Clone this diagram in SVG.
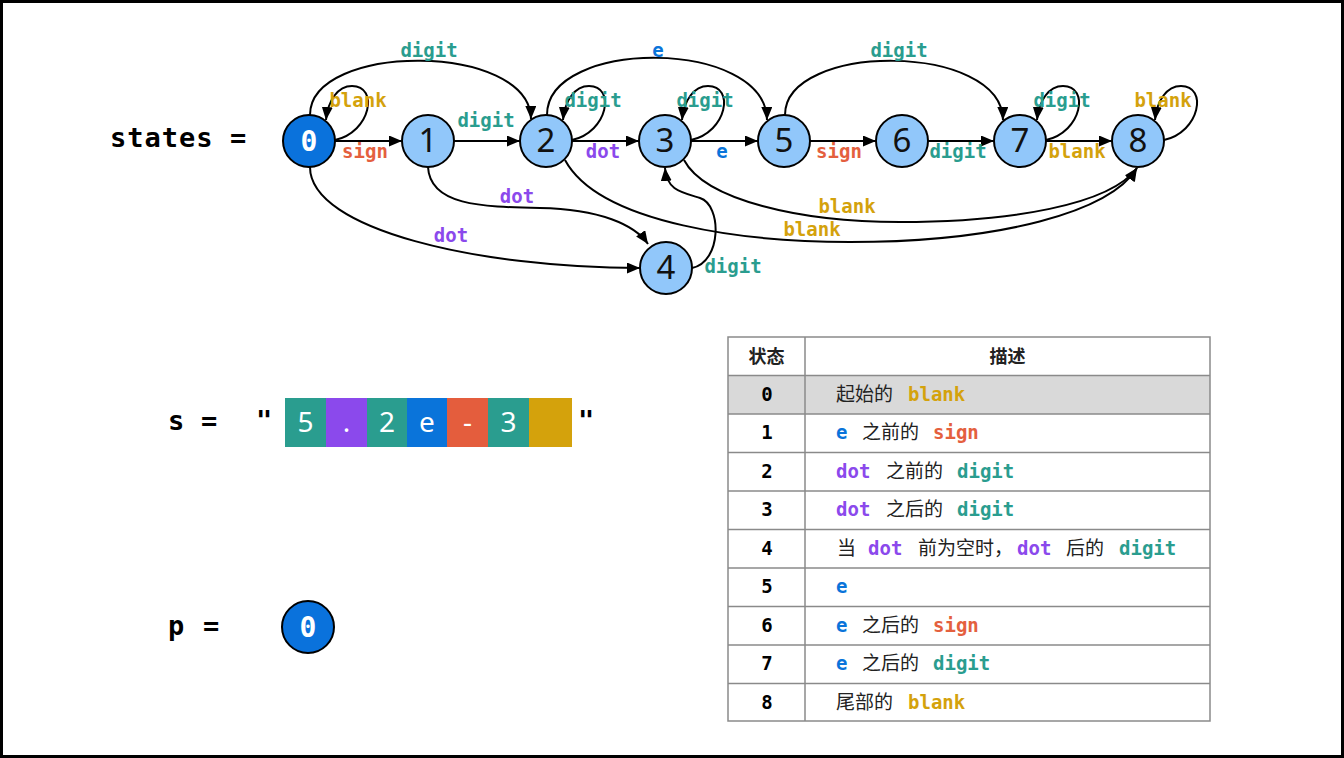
<svg xmlns="http://www.w3.org/2000/svg" width="1344" height="758" viewBox="0 0 1344 758">
<style>
.mono{font-family:"DejaVu Sans Mono","Liberation Mono",monospace;font-weight:bold}
.lbl{font-size:19px;text-anchor:middle}
.node{fill:#91C7FA;stroke:#000;stroke-width:2}
.start{fill:#0A72DC;stroke:#000;stroke-width:2}
.num{font-family:"Noto Sans","Liberation Sans",sans-serif;font-size:33px;text-anchor:middle;fill:#111}
.zero{font-size:28px;text-anchor:middle;fill:#fff}
.edge{fill:none;stroke:#000;stroke-width:2;marker-end:url(#ah)}
.digit{fill:#2A9D8F}.blank{fill:#D4A20C}.sign{fill:#E4603E}.dot{fill:#8B49EC}.e{fill:#0A74DA}
.cjk{font-family:"Noto Sans CJK SC",sans-serif;font-size:19px;fill:#222}
.cell{fill:none;stroke:#8a8a8a;stroke-width:1.5}
.tl{font-size:19px}
.big{font-size:27px;fill:#000;letter-spacing:1px}
.box{font-family:"Noto Sans","Liberation Sans",sans-serif;font-size:28px;fill:#fff;text-anchor:middle}
</style>
<defs>
<marker id="ah" markerUnits="userSpaceOnUse" markerWidth="14" markerHeight="12" refX="13" refY="5.5" orient="auto">
<path d="M0,0 L13,5.5 L0,11 z" fill="#000"/>
</marker>
</defs>
<rect x="0" y="0" width="1344" height="758" fill="#fff"/>
<rect x="1.5" y="1.5" width="1341" height="755" fill="none" stroke="#000" stroke-width="3"/>

<text class="mono big" x="110" y="147">states</text>
<text class="mono big" x="230" y="147">=</text>

<g id="connectors">
<path class="edge" d="M335,141 L402,141"/>
<path class="edge" d="M454,141 L520,141"/>
<path class="edge" d="M572,141 L639,141"/>
<path class="edge" d="M691,141 L758,141"/>
<path class="edge" d="M810,141 L876,141"/>
<path class="edge" d="M928,141 L994,141"/>
<path class="edge" d="M1046,141 L1112,141"/>
<path class="edge" d="M310,115 C310,42 530,42 531,119"/>
<path class="edge" d="M547,115 C547,38 766,38 767,120"/>
<path class="edge" d="M785,115 C785,42 1002,42 1003,120"/>
<path class="edge" d="M335,140 C371,132 379,86 352,86 C338,86 328,100 326,120"/>
<path class="edge" d="M572,140 C608,132 616,86 589,86 C575,86 565,100 563,120"/>
<path class="edge" d="M691,140 C727,132 735,86 708,86 C694,86 684,100 682,120"/>
<path class="edge" d="M1046,140 C1082,132 1090,86 1063,86 C1049,86 1039,100 1037,120"/>
<path class="edge" d="M1164,140 C1200,132 1208,86 1181,86 C1167,86 1157,100 1155,120"/>
<path class="edge" d="M310,167 C310,230 480,268 640,268"/>
<path class="edge" d="M428,167 C430,205 480,207 540,208 C600,209 635,225 648,244"/>
<path class="edge" d="M692,268 C722,262 722,205 700,198 C680,192 667,190 665,168"/>
<path class="edge" d="M565,160 C600,225 750,242 850,242 C1000,242 1110,212 1137,168"/>
<path class="edge" d="M684,160 C705,200 800,222 900,222 C1010,222 1110,205 1137,168"/>
</g>

<g id="edge-labels" class="mono lbl">
<text class="digit" x="429" y="57">digit</text>
<text class="blank" x="358" y="107">blank</text>
<text class="sign" x="365" y="158">sign</text>
<text class="digit" x="486" y="127">digit</text>
<text class="e" x="658" y="57">e</text>
<text class="digit" x="593" y="107">digit</text>
<text class="dot" x="603" y="158">dot</text>
<text class="digit" x="705" y="107">digit</text>
<text class="e" x="722" y="158">e</text>
<text class="digit" x="899" y="57">digit</text>
<text class="sign" x="839" y="158">sign</text>
<text class="digit" x="958" y="158">digit</text>
<text class="digit" x="1062" y="107">digit</text>
<text class="blank" x="1077" y="158">blank</text>
<text class="blank" x="1163" y="107">blank</text>
<text class="dot" x="517" y="203">dot</text>
<text class="dot" x="451" y="242">dot</text>
<text class="digit" x="733" y="273">digit</text>
<text class="blank" x="847" y="213">blank</text>
<text class="blank" x="812" y="236">blank</text>
</g>

<g id="node-0"><circle class="start" cx="309" cy="141" r="26"/><text class="mono zero" x="309" y="151">0</text></g>
<g id="node-1"><circle class="node" cx="428" cy="141" r="26"/><text class="num" x="428" y="152">1</text></g>
<g id="node-2"><circle class="node" cx="546" cy="141" r="26"/><text class="num" x="546" y="152">2</text></g>
<g id="node-3"><circle class="node" cx="665" cy="141" r="26"/><text class="num" x="665" y="152">3</text></g>
<g id="node-4"><circle class="node" cx="666" cy="268" r="26"/><text class="num" x="666" y="279">4</text></g>
<g id="node-5"><circle class="node" cx="784" cy="141" r="26"/><text class="num" x="784" y="152">5</text></g>
<g id="node-6"><circle class="node" cx="902" cy="141" r="26"/><text class="num" x="902" y="152">6</text></g>
<g id="node-7"><circle class="node" cx="1020" cy="141" r="26"/><text class="num" x="1020" y="152">7</text></g>
<g id="node-8"><circle class="node" cx="1138" cy="141" r="26"/><text class="num" x="1138" y="152">8</text></g>

<g id="string-s">
<text class="mono big" x="168" y="430">s</text>
<text class="mono big" x="201" y="430">=</text>
<text class="mono big" x="256" y="430">"</text>
<text class="mono big" x="578" y="430">"</text>
<rect x="285" y="398" width="41" height="49" fill="#2A9D8F"/>
<rect x="326" y="398" width="41" height="49" fill="#8B49EC"/>
<rect x="367" y="398" width="40" height="49" fill="#2A9D8F"/>
<rect x="407" y="398" width="40" height="49" fill="#0A74DA"/>
<rect x="447" y="398" width="41" height="49" fill="#E45D3D"/>
<rect x="488" y="398" width="41" height="49" fill="#2A9D8F"/>
<rect x="529" y="398" width="43" height="49" fill="#D4A20C"/>
<text class="box" x="305.5" y="432">5</text>
<text class="box" x="346.5" y="432">.</text>
<text class="box" x="387" y="432">2</text>
<text class="box" x="427" y="432">e</text>
<text class="box" x="467.5" y="432">-</text>
<text class="box" x="508.5" y="432">3</text>
</g>

<g id="pointer-p">
<text class="mono big" x="168" y="635">p</text>
<text class="mono big" x="203" y="635">=</text>
<circle class="start" cx="308" cy="627" r="26"/>
<text class="mono zero" x="308" y="637">0</text>
</g>

<g id="table">
<rect x="728" y="375.5" width="482" height="38.4" fill="#D9D9D9"/>
<rect class="cell" x="728" y="337" width="482" height="384" stroke="#777"/>
<line class="cell" x1="805" y1="337" x2="805" y2="721"/>
<line class="cell" x1="728" y1="375.5" x2="1210" y2="375.5"/>
<line class="cell" x1="728" y1="414" x2="1210" y2="414"/>
<line class="cell" x1="728" y1="452.5" x2="1210" y2="452.5"/>
<line class="cell" x1="728" y1="491" x2="1210" y2="491"/>
<line class="cell" x1="728" y1="529.5" x2="1210" y2="529.5"/>
<line class="cell" x1="728" y1="568" x2="1210" y2="568"/>
<line class="cell" x1="728" y1="606.5" x2="1210" y2="606.5"/>
<line class="cell" x1="728" y1="645" x2="1210" y2="645"/>
<line class="cell" x1="728" y1="683.5" x2="1210" y2="683.5"/>
<text class="cjk" x="766.5" y="363" text-anchor="middle" font-weight="bold" fill="#000" style="font-size:18px">状态</text>
<text class="cjk" x="1007.5" y="363" text-anchor="middle" font-weight="bold" fill="#000" style="font-size:18px">描述</text>
<g class="mono tl" text-anchor="middle" fill="#000">
<text x="767" y="401">0</text><text x="767" y="439">1</text><text x="767" y="478">2</text>
<text x="767" y="516">3</text><text x="767" y="555">4</text><text x="767" y="593">5</text>
<text x="767" y="632">6</text><text x="767" y="670">7</text><text x="767" y="709">8</text>
</g>
<text class="cjk" x="836" y="401">起始的</text><text class="mono tl blank" x="908" y="401">blank</text>
<text class="mono tl e" x="836" y="439">e</text><text class="cjk" x="862" y="439">之前的</text><text class="mono tl sign" x="933" y="439">sign</text>
<text class="mono tl dot" x="836" y="478">dot</text><text class="cjk" x="886" y="478">之前的</text><text class="mono tl digit" x="957" y="478">digit</text>
<text class="mono tl dot" x="836" y="516">dot</text><text class="cjk" x="886" y="516">之后的</text><text class="mono tl digit" x="957" y="516">digit</text>
<text class="cjk" x="837" y="555">当</text><text class="mono tl dot" x="868" y="555">dot</text><text class="cjk" x="918" y="555">前为空时，</text><text class="mono tl dot" x="1017" y="555">dot</text><text class="cjk" x="1066" y="555">后的</text><text class="mono tl digit" x="1119" y="555">digit</text>
<text class="mono tl e" x="836" y="593">e</text>
<text class="mono tl e" x="836" y="632">e</text><text class="cjk" x="862" y="632">之后的</text><text class="mono tl sign" x="933" y="632">sign</text>
<text class="mono tl e" x="836" y="670">e</text><text class="cjk" x="862" y="670">之后的</text><text class="mono tl digit" x="933" y="670">digit</text>
<text class="cjk" x="836" y="709">尾部的</text><text class="mono tl blank" x="908" y="709">blank</text>
</g>
</svg>
